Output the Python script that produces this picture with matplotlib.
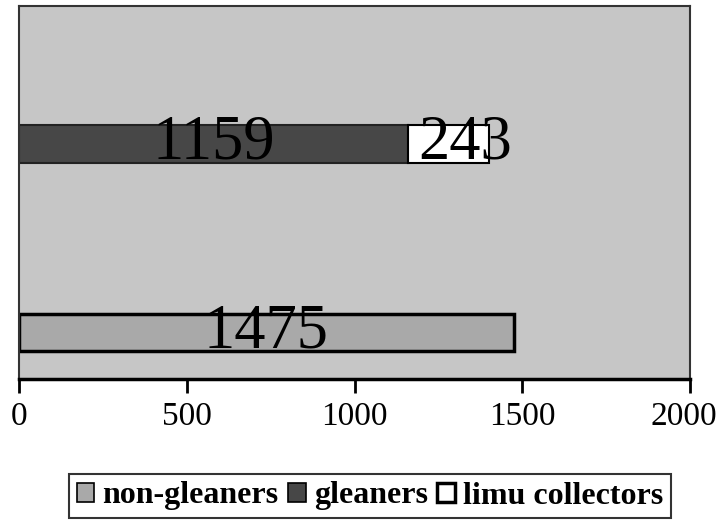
import matplotlib
matplotlib.use("Agg")
import matplotlib.pyplot as plt
import matplotlib.transforms as mtransforms
from matplotlib.patches import Patch

categories = ["non-gleaners row", "gleaners row"]
series_names = ["non-gleaners", "gleaners", "limu collectors"]
non_gleaners = [1475, 0]
gleaners = [0, 1159]
limu = [0, 243]
xticks = [0, 500, 1000, 1500, 2000]

plt.rcParams['font.family'] = ['Liberation Serif', 'DejaVu Serif']

W, H = 719, 530
fig = plt.figure(figsize=(W / 100, H / 100), dpi=100)
ax = fig.add_axes([19 / W, (H - 379) / H, (690 - 19) / W, (379 - 6) / H])
ax.set_facecolor('#c6c6c6')

ypos = [0, 1]
bh = 0.2
c_non, c_gl, c_limu = '#a9a9a9', '#474747', '#ffffff'

b1 = ax.barh(ypos, non_gleaners, height=bh, color=c_non, edgecolor='black', linewidth=2.5)
b2 = ax.barh(ypos, gleaners, left=non_gleaners, height=bh, color=c_gl, edgecolor='#222222', linewidth=1.5)
left3 = [a + b for a, b in zip(non_gleaners, gleaners)]
b3 = ax.barh(ypos, limu, left=left3, height=bh, color=c_limu, edgecolor='black', linewidth=1.5)

for bars, vals in ((b1, non_gleaners), (b2, gleaners), (b3, limu)):
    for rect, v in zip(bars, vals):
        if v == 0:
            rect.set_visible(False)

# value labels at segment centers (small segment label sits a bit to the right)
for i in range(len(ypos)):
    start = 0
    for k, vals in enumerate((non_gleaners, gleaners, limu)):
        v = vals[i]
        if v > 0:
            dx = 12 if k == 2 else 0
            ax.annotate(str(v), (start + v / 2, ypos[i]), xytext=(dx, 0),
                        textcoords='offset points', ha='center', va='center',
                        fontsize=45, color='black')
        start += v

ax.set_xlim(0, 2000)
ax.set_ylim(-0.247, 1.732)
ax.set_xticks(xticks)
ax.set_xticklabels([str(t) for t in xticks], fontsize=24)
ax.tick_params(axis='x', direction='out', length=10, width=2, pad=6, color='black')
ax.set_yticks([])
ax.spines['bottom'].set_linewidth(2.5)
for s in ('left', 'top', 'right'):
    ax.spines[s].set_linewidth(1.5)
    ax.spines[s].set_color('#333333')

# nudge the last tick label so it stays inside the figure
last = ax.get_xticklabels()[-1]
last.set_transform(last.get_transform() + mtransforms.ScaledTranslation(-6 / 100, 0, fig.dpi_scale_trans))

handles = [Patch(facecolor=c_non, edgecolor='black', linewidth=1.2),
           Patch(facecolor=c_gl, edgecolor='black', linewidth=1.2),
           Patch(facecolor=c_limu, edgecolor='black', linewidth=2.5)]
leg = fig.legend(handles, series_names, loc='center', bbox_to_anchor=(370 / W, 1 - 496 / H),
                 ncol=3, frameon=True, fancybox=False, handlelength=0.55, handleheight=0.55,
                 handletextpad=0.25, columnspacing=0.3, borderpad=0.25, borderaxespad=0,
                 prop={'family': 'Liberation Serif', 'weight': 'bold', 'size': 23})
leg.get_frame().set_edgecolor('black')
leg.get_frame().set_linewidth(1.5)

fig.savefig('out.png', dpi=100)
